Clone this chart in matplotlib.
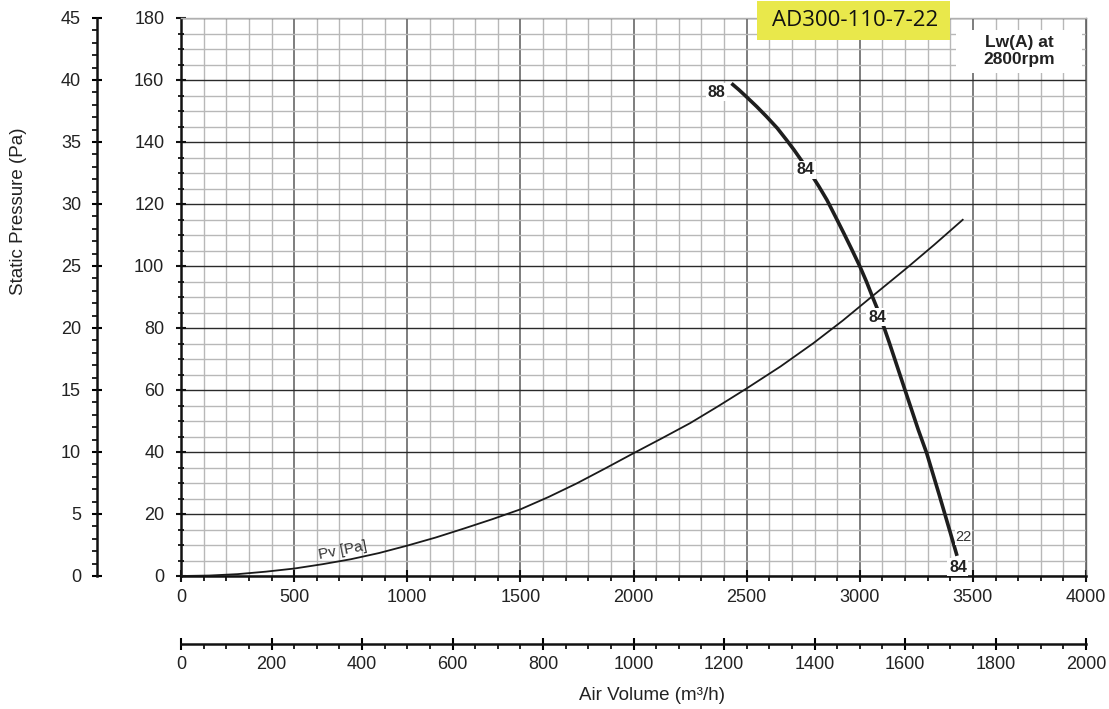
import matplotlib
matplotlib.use("Agg")
import matplotlib.pyplot as plt
from matplotlib.ticker import MultipleLocator
from matplotlib.patches import Rectangle

# ---- data ----
p_flow = [2433, 2465, 2499, 2545, 2588, 2635, 2677, 2710, 2736, 2787, 2820, 2855, 2890, 2930,
          2965, 3001, 3030, 3056, 3080, 3101, 3130, 3156, 3200, 3259, 3296, 3350, 3399, 3430]
p_static = [158.9, 156.9, 154.6, 151.4, 148.2, 144.5, 140.6, 137.4, 134.7, 129.4, 125.6, 121.3,
            116.3, 110.5, 105.3, 99.8, 94.9, 90.1, 85.8, 81.5, 75.4, 69.7, 60.0, 47.1, 39.6,
            26.5, 14.3, 6.5]

pv_flow = [0, 125, 250, 375, 500, 625, 750, 875, 1000, 1125, 1250, 1375, 1500, 1625, 1750,
           1875, 2000, 2125, 2250, 2375, 2500, 2650, 2795, 2925, 3053, 3207, 3330, 3458]
pv_values = [0, 0.15, 0.6, 1.4, 2.4, 3.8, 5.4, 7.4, 9.8, 12.4, 15.3, 18.3, 21.5, 25.5, 29.9,
             34.7, 39.6, 44.4, 49.3, 54.8, 60.5, 67.6, 75.1, 82.4, 90.1, 99.3, 106.9, 115.1]

# noise labels along the curve: (flow, pressure, text)
lw_label_flow = [2365, 2758, 3076, 3434]
lw_label_pres = [156.0, 131.0, 83.5, 2.8]
lw_label_text = ["88", "84", "84", "84"]

title_text = "AD300-110-7-22"
info_text = "Lw(A) at\n2800rpm"
pv_label = "Pv [Pa]"
end_note = "22"

W, H = 1109, 709
plt.rcParams['font.family'] = ['Liberation Sans', 'DejaVu Sans']

fig = plt.figure(figsize=(W / 100, H / 100), dpi=100)
ax_l, ax_r, ax_t, ax_b = 181, 1086, 18, 576
ax = fig.add_axes([ax_l / W, 1 - ax_b / H, (ax_r - ax_l) / W, (ax_b - ax_t) / H])

ax.set_xlim(0, 4000)
ax.set_ylim(0, 180)

ax.xaxis.set_major_locator(MultipleLocator(500))
ax.xaxis.set_minor_locator(MultipleLocator(100))
ax.yaxis.set_major_locator(MultipleLocator(20))
ax.yaxis.set_minor_locator(MultipleLocator(5))

ax.set_axisbelow(True)
ax.xaxis.grid(True, which='minor', color='#b8b8b8', lw=1.0)
ax.yaxis.grid(True, which='minor', color='#b8b8b8', lw=1.0)
ax.xaxis.grid(True, which='major', color='#5a5a5a', lw=1.1)
ax.yaxis.grid(True, which='major', color='#2a2a2a', lw=1.0)

for s in ['left', 'bottom']:
    ax.spines[s].set_linewidth(1.8)
    ax.spines[s].set_color('#111')
ax.spines['top'].set_color('#b0b0b0')
ax.spines['top'].set_linewidth(1.0)
ax.spines['right'].set_color('#666')
ax.spines['right'].set_linewidth(1.0)

TL = 13.0
ax.tick_params(axis='both', which='major', labelsize=TL, colors='#111', labelcolor='#222')
ax.tick_params(axis='x', which='major', direction='inout', length=8, width=1.5, pad=5)
ax.tick_params(axis='x', which='minor', direction='out', length=3.5, width=1.2)
ax.tick_params(axis='y', which='major', direction='inout', length=7, width=1.5, pad=8.5)
ax.tick_params(axis='y', which='minor', direction='inout', length=4.5, width=1.2)

# curves
ax.plot(pv_flow, pv_values, color='#1a1a1a', lw=1.3, solid_capstyle='butt',
        solid_joinstyle='round', zorder=3)
ax.plot(p_flow, p_static, color='#1e1e1e', lw=2.6, solid_capstyle='butt',
        solid_joinstyle='round', zorder=4)
ax.plot([3455], [0.4], marker='o', ms=3, color='#111', zorder=5)

for fx, py, t in zip(lw_label_flow, lw_label_pres, lw_label_text):
    ax.text(fx, py, t, ha='center', va='center', fontsize=11.5, fontweight='bold', color='#222',
            bbox=dict(boxstyle='square,pad=0.1', fc='white', ec='none'), zorder=6)

ax.text(3458, 12.6, end_note, ha='center', va='center', fontsize=10.5, color='#333',
        bbox=dict(boxstyle='square,pad=0.05', fc='white', ec='none'), zorder=6)
ax.text(715, 8.2, pv_label, ha='center', va='center', fontsize=11, color='#333',
        rotation=11, rotation_mode='anchor', zorder=6)

# secondary axes
sy = ax.secondary_yaxis(-(ax_l - 97) / (ax_r - ax_l), functions=(lambda y: y / 4.0, lambda y: y * 4.0))
sy.yaxis.set_major_locator(MultipleLocator(5))
sy.yaxis.set_minor_locator(MultipleLocator(1))
sy.spines['left'].set_linewidth(1.8)
sy.spines['left'].set_color('#111')
sy.tick_params(axis='y', which='major', direction='inout', length=7, width=1.5, pad=8,
               labelsize=TL, labelcolor='#222')
sy.tick_params(axis='y', which='minor', direction='out', length=3.5, width=1.2)

sx = ax.secondary_xaxis(-(643.5 - ax_b) / (ax_b - ax_t), functions=(lambda x: x / 2.0, lambda x: x * 2.0))
sx.xaxis.set_major_locator(MultipleLocator(200))
sx.xaxis.set_minor_locator(MultipleLocator(50))
sx.spines['bottom'].set_linewidth(1.8)
sx.spines['bottom'].set_color('#111')
sx.tick_params(axis='x', which='major', direction='inout', length=8, width=1.5, pad=5,
               labelsize=TL, labelcolor='#222')
sx.tick_params(axis='x', which='minor', direction='out', length=3.5, width=1.2)

# axis labels
fig.text(19 / W, 1 - 211 / H, "Static Pressure (Pa)", rotation=90, ha='center', va='center',
         fontsize=13.5, color='#222')
fig.text(652 / W, 1 - 695 / H, "Air Volume (m³/h)", ha='center', va='center',
         fontsize=13.5, color='#222')

# title box
fig.patches.append(Rectangle((757 / W, 1 - 40 / H), (950 - 757) / W, 39 / H,
                             transform=fig.transFigure, fc='#e9e84b', ec='none', zorder=10))
fig.text(855 / W, 1 - 21 / H, title_text, ha='center', va='center', fontsize=16,
         family=['Open Sans', 'DejaVu Sans'], color='#111', zorder=11)

# info box
fig.patches.append(Rectangle((956 / W, 1 - 73 / H), (1082 - 956) / W, 43 / H,
                             transform=fig.transFigure, fc='white', ec='none', zorder=10))
fig.text(1019 / W, 1 - 51 / H, info_text, ha='center', va='center', fontsize=12.5,
         fontweight='bold', linespacing=1.2, color='#222', zorder=11)

fig.savefig("out.png", dpi=100)
